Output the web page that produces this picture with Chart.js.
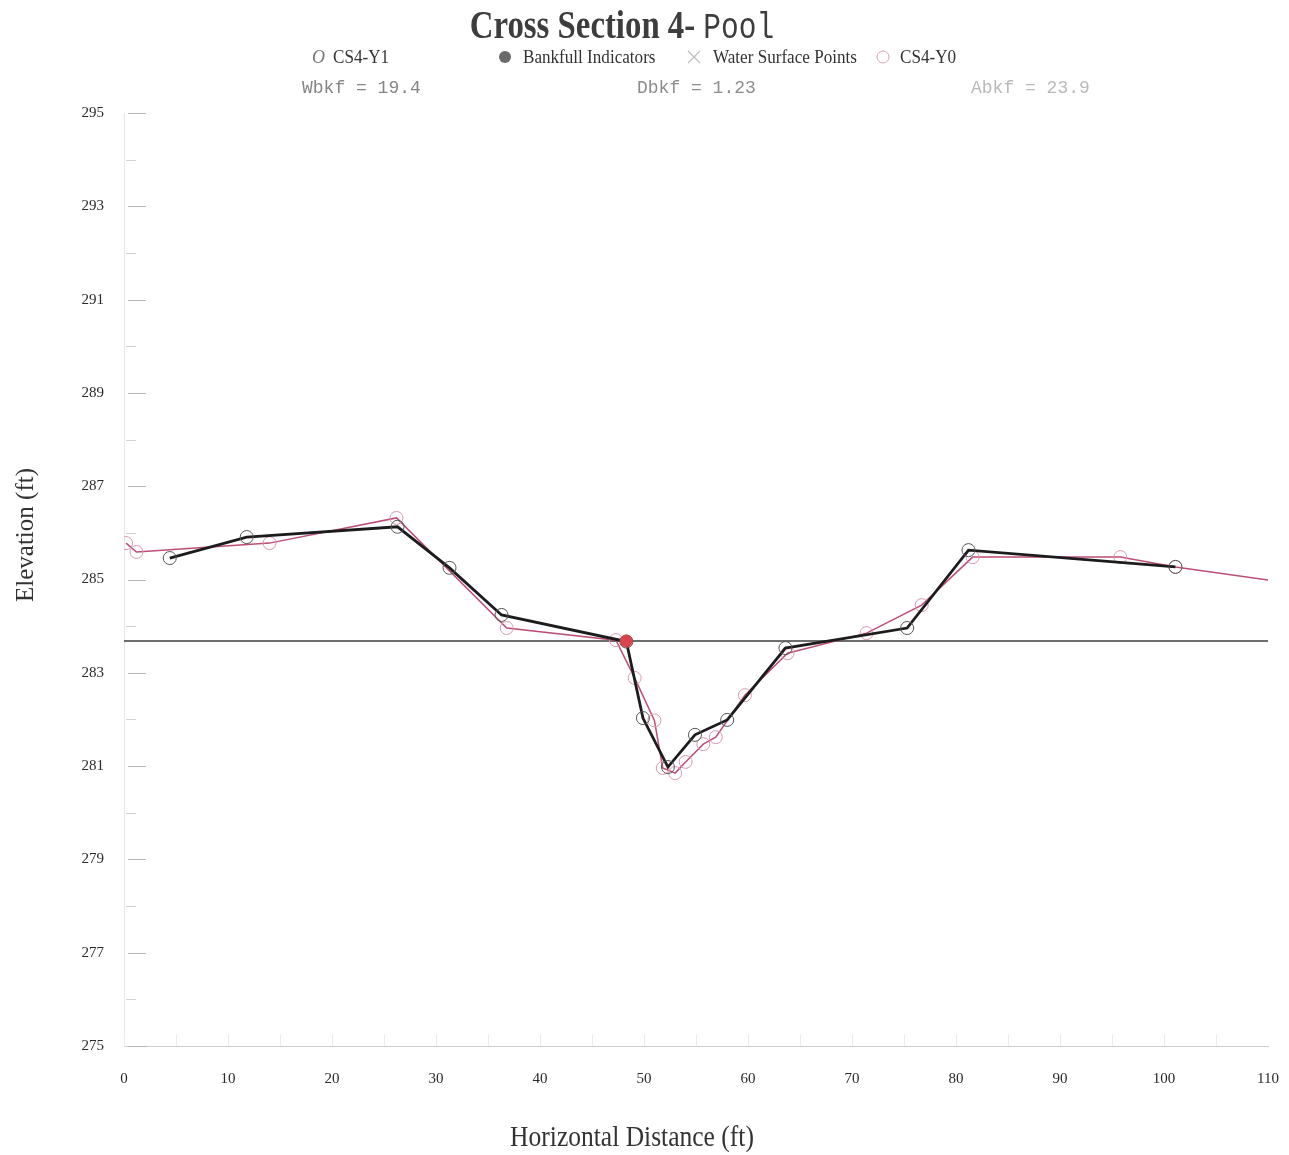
<!DOCTYPE html>
<html lang="en">
<head>
<meta charset="UTF-8" />
<title>Cross Section 4- Pool</title>
<style>
  body { margin: 0; background: #fff; }
  #wrap { width: 1289px; height: 1155px; position: relative; }
</style>
</head>
<body>
<div id="wrap"><canvas id="lienzo"></canvas></div>
<script src="https://cdn.jsdelivr.net/npm/chart.js"></script>
<script>
// CS4-Y1 survey (black)
const y1Dist = [4.4, 11.8, 26.3, 31.3, 36.3, 48.3, 49.9, 52.3, 54.9, 58.0, 63.6, 75.3, 81.2, 101.1];
const y1Elev = [285.46, 285.91, 286.13, 285.25, 284.24, 283.67, 282.03, 280.98, 281.67, 281.99, 283.53, 283.96, 285.63, 285.27];

// CS4-Y0 survey (pink)
const y0Dist = [0.2, 1.2, 14.0, 26.2, 36.8, 47.3, 49.1, 51.0, 51.8, 53.0, 54.0, 55.7, 56.9, 59.7, 63.8, 71.4, 76.7, 81.6, 95.8, 101.1, 111.0];
const y0Elev = [285.78, 285.59, 285.78, 286.32, 283.96, 283.70, 282.89, 281.98, 280.96, 280.85, 281.09, 281.47, 281.62, 282.52, 283.42, 283.85, 284.45, 285.48, 285.48, 285.27, 284.96];

// bankfull indicators and bankfull stage
const bkfDist = [48.3];
const bkfElev = [283.68];
const bkfStage = 283.68;
const stageDist = [0, 110];

// water surface points (none shown)
const wsDist = [];
const wsElev = [];

const statNames = ['Wbkf', 'Dbkf', 'Abkf'];
const statValues = ['19.4', '1.23', '23.9'];

const xTicks = { min: 0, max: 110, step: 10 };
const yTicks = { min: 275, max: 295, step: 1 };

const pts = (xs, ys) => xs.map((d, i) => ({ x: d, y: ys[i] }));

function texto(ctx, txt, x, y, font, color, sx = 1, align = 'left') {
  ctx.save();
  ctx.font = font;
  ctx.fillStyle = color;
  ctx.textBaseline = 'alphabetic';
  const w = ctx.measureText(txt).width * sx;
  const x0 = align === 'center' ? x - w / 2 : align === 'right' ? x - w : x;
  ctx.translate(x0, y);
  ctx.scale(sx, 1);
  ctx.fillText(txt, 0, 0);
  ctx.restore();
  return w;
}

const decor = {
  id: 'decor',
  beforeDatasetsDraw(chart) {
    const { ctx, chartArea: a, scales: { x, y } } = chart;
    ctx.save();
    ctx.lineWidth = 1;
    for (let v = yTicks.min; v <= yTicks.max; v++) {
      const py = Math.round(y.getPixelForValue(v)) + 0.5;
      const major = v % 2 === 1;
      ctx.strokeStyle = major ? '#b5b5b5' : '#d2d2d2';
      ctx.beginPath();
      ctx.moveTo(a.left + (major ? 4 : 2), py);
      ctx.lineTo(a.left + (major ? 22 : 12), py);
      ctx.stroke();
    }
    ctx.strokeStyle = '#ececec';
    for (let d = 0; d <= 105; d += 5) {
      const px = Math.round(x.getPixelForValue(d)) + 0.5;
      ctx.beginPath();
      ctx.moveTo(px, a.bottom);
      ctx.lineTo(px, a.bottom - 12);
      ctx.stroke();
    }
    ctx.restore();
  },
  afterDraw(chart) {
    const ctx = chart.ctx;
    // title
    const f1 = 'bold 40px "Liberation Serif"';
    const f2 = '36px "Liberation Mono"';
    ctx.font = f1;
    const w1 = ctx.measureText('Cross Section 4- ').width * 0.82;
    ctx.font = f2;
    const w2 = ctx.measureText('Pool').width * 0.82;
    const tx = 622 - (w1 + w2) / 2;
    texto(ctx, 'Cross Section 4- ', tx, 38, f1, '#3d3d3d', 0.82);
    texto(ctx, 'Pool', tx + w1, 38, f2, '#3d3d3d', 0.82);

    // legend
    const lf = '19px "Liberation Serif"';
    texto(ctx, 'O', 312, 63, 'italic 18px "Liberation Serif"', '#777', 1);
    texto(ctx, 'CS4-Y1', 333, 63, lf, '#333', 0.9);
    ctx.save();
    ctx.fillStyle = '#6a6a6a';
    ctx.beginPath();
    ctx.arc(505, 57, 6, 0, Math.PI * 2);
    ctx.fill();
    ctx.restore();
    texto(ctx, 'Bankfull Indicators', 523, 63, lf, '#333', 0.9);
    ctx.save();
    ctx.strokeStyle = '#bdbdbd';
    ctx.lineWidth = 1.2;
    ctx.beginPath();
    ctx.moveTo(688, 51); ctx.lineTo(700, 63);
    ctx.moveTo(700, 51); ctx.lineTo(688, 63);
    ctx.stroke();
    ctx.restore();
    texto(ctx, 'Water Surface Points', 713, 63, lf, '#333', 0.9);
    ctx.save();
    ctx.strokeStyle = '#d9a3b3';
    ctx.lineWidth = 1;
    ctx.beginPath();
    ctx.arc(883, 57, 6, 0, Math.PI * 2);
    ctx.stroke();
    ctx.restore();
    texto(ctx, 'CS4-Y0', 900, 63, lf, '#333', 0.9);

    // bankfull stats
    const sf = '18px "Liberation Mono"';
    const sx = [302, 637, 971];
    const sc = ['#858585', '#8c8c8c', '#b9b9b9'];
    statNames.forEach((n, i) => texto(ctx, n + ' = ' + statValues[i], sx[i], 93, sf, sc[i], 1));

    // axis titles
    texto(ctx, 'Horizontal Distance (ft)', 632, 1146, '29px "Liberation Serif"', '#333', 0.88, 'center');
    ctx.save();
    ctx.translate(33, 535);
    ctx.rotate(-Math.PI / 2);
    texto(ctx, 'Elevation (ft)', 0, 0, '25px "Liberation Serif"', '#333', 1, 'center');
    ctx.restore();
  }
};

const contexto = document.querySelector('#lienzo');
const grafico = new Chart(contexto, {
  type: 'scatter',
  data: {
    datasets: [
      {
        label: 'Bankfull Indicators',
        data: pts(bkfDist, bkfElev),
        pointRadius: 6,
        pointBackgroundColor: '#d9434b',
        pointBorderColor: '#d9434b',
        showLine: false
      },
      {
        label: 'CS4-Y1',
        data: pts(y1Dist, y1Elev),
        showLine: true,
        borderColor: '#1c1c1c',
        borderWidth: 2.8,
        pointRadius: 6.5,
        pointBorderWidth: 1,
        pointBorderColor: '#555',
        pointBackgroundColor: 'rgba(0,0,0,0)'
      },
      {
        label: 'CS4-Y0',
        data: pts(y0Dist, y0Elev),
        showLine: true,
        borderColor: '#bd4d72',
        borderWidth: 1.5,
        pointRadius: 6.5,
        pointBorderWidth: 1,
        pointBorderColor: '#d69aae',
        pointBackgroundColor: 'rgba(0,0,0,0)'
      },
      {
        label: 'Water Surface Points',
        data: pts(wsDist, wsElev),
        pointStyle: 'crossRot',
        pointRadius: 6,
        pointBorderColor: '#bbb'
      },
      {
        label: 'Bankfull',
        data: stageDist.map(d => ({ x: d, y: bkfStage })),
        showLine: true,
        borderColor: '#3c3c3c',
        borderWidth: 1.5,
        pointRadius: 0
      }
    ]
  },
  options: {
    responsive: true,
    maintainAspectRatio: false,
    animation: false,
    layout: { padding: { left: 0, top: 113, right: 0, bottom: 4 } },
    plugins: {
      legend: { display: false },
      title: { display: false },
      tooltip: { enabled: false }
    },
    scales: {
      x: {
        type: 'linear',
        min: xTicks.min,
        max: xTicks.max,
        grid: { display: false },
        border: { display: true, color: '#cfcfcf', width: 1 },
        ticks: {
          stepSize: xTicks.step,
          padding: 16,
          color: '#2a2a2a',
          font: { family: 'Liberation Serif', size: 15 }
        },
        afterFit(scale) {
          scale.height = 105;
          scale.paddingLeft = 0;
          scale.paddingRight = 21;
        }
      },
      y: {
        type: 'linear',
        min: yTicks.min,
        max: yTicks.max,
        grid: { display: false },
        border: { display: true, color: '#e6e6e6', width: 1 },
        ticks: {
          stepSize: yTicks.step,
          autoSkip: false,
          padding: 12,
          color: '#2a2a2a',
          font: { family: 'Liberation Serif', size: 15 },
          callback: v => (v % 2 === 1 ? v : '')
        },
        afterFit(scale) { scale.width = 124; }
      }
    }
  },
  plugins: [decor]
});
</script>
</body>
</html>
